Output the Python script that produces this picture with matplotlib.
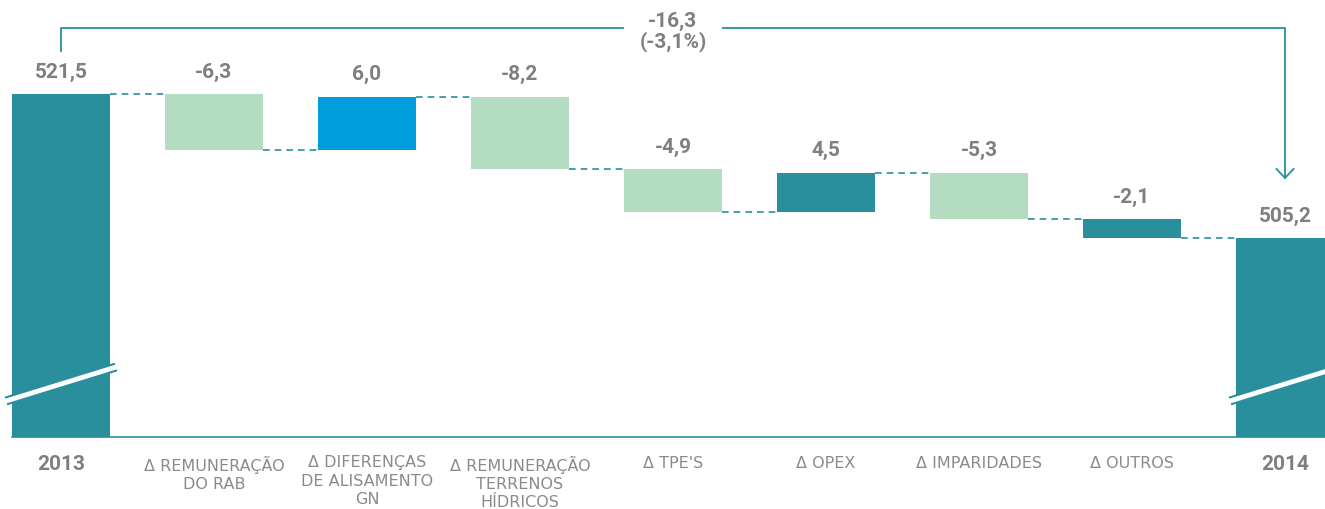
import matplotlib
matplotlib.use("Agg")
import matplotlib.pyplot as plt
import numpy as np

# ---- data ----
categories = ["2013", "Δ REMUNERAÇÃO\nDO RAB", "Δ DIFERENÇAS\nDE ALISAMENTO\nGN",
              "Δ REMUNERAÇÃO\nTERRENOS\nHÍDRICOS", "Δ TPE'S", "Δ OPEX",
              "Δ IMPARIDADES", "Δ OUTROS", "2014"]
start_value = 521.5
end_value = 505.2
deltas = [-6.3, 6.0, -8.2, -4.9, 4.5, -5.3, -2.1]
value_labels = ["521,5", "-6,3", "6,0", "-8,2", "-4,9", "4,5", "-5,3", "-2,1", "505,2"]
total_label = "-16,3\n(-3,1%)"

TEAL = "#298f9d"
GREEN = "#b4dcc1"
BLUE = "#009ddd"
GREY = "#7f7f7f"
delta_colors = [GREEN, BLUE, GREEN, GREEN, TEAL, GREEN, TEAL]
BOLD_FONT = ["Roboto", "DejaVu Sans"]

# ---- scale setup ----
px_per_unit = 144 / 16.3
ymin = start_value - (509 - 94) / px_per_unit
ymax = start_value + 94 / px_per_unit
base = start_value - (437 - 94) / px_per_unit
xl = -61 / 153
xr = (1325 - 61) / 153
W = 98 / 153

fig = plt.figure(figsize=(13.25, 5.09), dpi=100)
ax = fig.add_axes([0, 0, 1, 1])
ax.set_xlim(xl, xr)
ax.set_ylim(ymin, ymax)
ax.axis("off")

def dy(px):
    return px / px_per_unit

def dx(px):
    return px / 153

n = len(categories)
# total bars
ax.bar(0, start_value - base, bottom=base, width=W, color=TEAL, zorder=2)
ax.bar(n - 1, end_value - base, bottom=base, width=W, color=TEAL, zorder=2)

# delta bars
levels = [start_value]
tops = [start_value]
cur = start_value
for i, d in enumerate(deltas):
    nxt = cur + d
    lo, hi = min(cur, nxt), max(cur, nxt)
    ax.bar(i + 1, hi - lo, bottom=lo, width=W, color=delta_colors[i], zorder=2)
    levels.append(nxt)
    tops.append(hi)
    cur = nxt
tops.append(end_value)

# connectors
for i in range(n - 1):
    lvl = levels[i]
    ax.plot([i + W / 2, i + 1 - W / 2], [lvl, lvl], color=TEAL, lw=1.2,
            dashes=(4, 3), zorder=1)

# value labels
for i, (t, lab) in enumerate(zip(tops, value_labels)):
    ax.annotate(lab, (i, t), xytext=(0, 9), textcoords="offset points",
                ha="center", va="bottom", fontsize=15, fontweight="bold",
                color=GREY, family=BOLD_FONT)

# axis line
ax.plot([-W / 2, xr], [base, base], color=TEAL, lw=1.2, zorder=3)

# category labels
for i, c in enumerate(categories):
    if i == 0 or i == n - 1:
        ax.text(i, base - dy(27.5), c, ha="center", va="center", fontsize=15,
                fontweight="bold", color=GREY, family=BOLD_FONT)
    else:
        ax.text(i, base - dy(18.5), c, ha="center", va="top", fontsize=11.5,
                color="#8a8a8a", linespacing=1.27, family=["DejaVu Sans"])

# break marks
for i in (0, n - 1):
    x0, x1 = i - W / 2 - dx(6), i + W / 2 + dx(6)
    y0, y1 = base + dy(36), base + dy(70)
    ax.plot([x0, x1], [y0, y1], color=TEAL, lw=6.5, solid_capstyle="butt", zorder=4)
    ax.plot([x0 - dx(2), x1 + dx(2)], [y0 - dy(0.6), y1 + dy(0.6)], color="white",
            lw=3.5, solid_capstyle="butt", zorder=5)

# top bracket
yh = start_value + dy(94 - 28)
yv0 = start_value + dy(94 - 51)
yarr = start_value - dy(178 - 94)
xm = 4
gap = dx(50)
ax.plot([0, 0, xm - gap], [yv0, yh, yh], color=TEAL, lw=1.3, zorder=3)
ax.plot([xm + gap, n - 1, n - 1], [yh, yh, yarr], color=TEAL, lw=1.3, zorder=3)
ax.plot([n - 1 - dx(8.5), n - 1, n - 1 + dx(8.5)], [yarr + dy(9), yarr, yarr + dy(9)],
        color=TEAL, lw=1.3, zorder=3)
ax.text(xm, start_value + dy(94 - 32), total_label, ha="center", va="center",
        fontsize=15, fontweight="bold", color=GREY, linespacing=1.0,
        family=BOLD_FONT)

fig.savefig("out.png", dpi=100)
